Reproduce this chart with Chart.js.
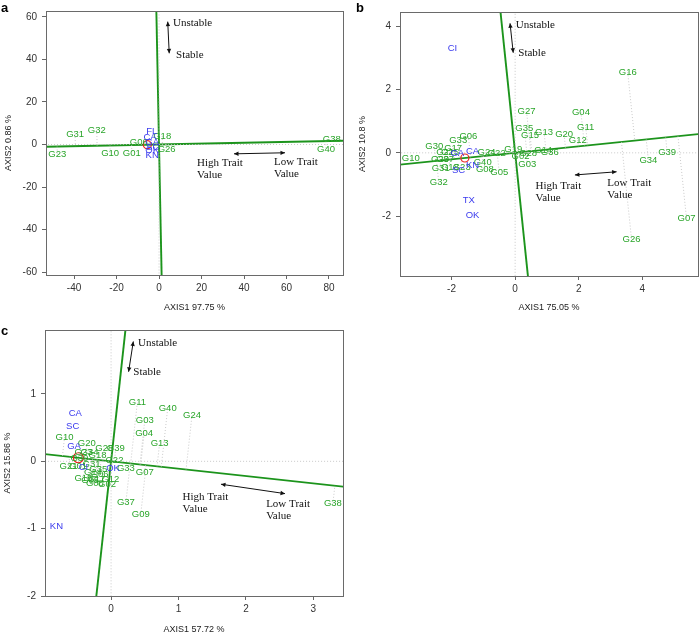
<!DOCTYPE html>
<html>
<head>
<meta charset="utf-8">
<script src="https://cdn.jsdelivr.net/npm/chart.js@4.4.1/dist/chart.umd.min.js"></script>
<style>
  body { margin: 0; background: #fff; }
  .wrap { position: relative; width: 700px; height: 635px; }
  canvas { position: absolute; }
</style>
</head>
<body>
<div class="wrap">
  <canvas id="plotA" width="350" height="318" style="left:0;top:0"></canvas>
  <canvas id="plotB" width="350" height="318" style="left:350px;top:0"></canvas>
  <canvas id="plotC" width="350" height="317" style="left:0;top:318px"></canvas>
</div>
<script>
// panel a
const aGenoNames = ['G31', 'G32', 'G23', 'G10', 'G01', 'G06', 'G18', 'G26', 'G38', 'G40'];
const aGenoX = [-39.5, -29.3, -47.9, -23, -12.8, -9.5, 1.5, 3.6, 81.3, 78.6];
const aGenoY = [4.9, 6.8, -4.6, -4.4, -4.4, 1.1, 4, -2.4, 2.4, -2.1];
const aEnvNames = ['FL', 'CA', 'GA', 'SC', 'OK', 'KN'];
const aEnvX = [-3.4, -4.2, -3.2, -3.0, -3.2, -3.2];
const aEnvY = [6.3, 3.5, 1.2, -1.2, -3.0, -4.9];
const aAvg = [-5.5, -0.11];
const aXTicks = [-40, -20, 0, 20, 40, 60, 80];
const aYTicks = [-60, -40, -20, 0, 20, 40, 60];

// panel b
const bGenoNames = ['G16', 'G27', 'G04', 'G11', 'G35', 'G15', 'G13', 'G20', 'G12', 'G39', 'G34', 'G07', 'G26',
  'G19', 'G02', 'G28', 'G03', 'G14', 'G36', 'G24', 'G22', 'G40', 'G08', 'G05', 'G06', 'G33', 'G30', 'G17',
  'G10', 'G32', 'G31', 'G18', 'G29', 'G21', 'G23', 'G37', 'G25'];
const bGenoX = [3.54, 0.36, 2.07, 2.22, 0.29, 0.47, 0.91, 1.54, 1.97, 4.78, 4.19, 5.39, 3.66,
  -0.06, 0.17, 0.41, 0.38, 0.88, 1.09, -0.90, -0.58, -1.02, -0.95, -0.50, -1.47, -1.79, -2.54, -1.95,
  -3.28, -2.40, -2.34, -2.05, -2.36, -2.2, -1.68, -2.2, -2.05];
const bGenoY = [2.55, 1.30, 1.28, 0.81, 0.76, 0.56, 0.65, 0.57, 0.40, 0.03, -0.23, -2.09, -2.73,
  0.12, -0.10, -0.02, -0.38, 0.07, 0.0, 0.03, -0.02, -0.30, -0.52, -0.62, 0.53, 0.38, 0.19, 0.15,
  -0.18, -0.95, -0.49, -0.46, -0.22, 0.0, -0.45, -0.22, 0.0];
const bEnvNames = ['CI', 'GA', 'CA', 'KN', 'SC', 'TX', 'OK'];
const bEnvX = [-1.97, -1.82, -1.34, -1.34, -1.78, -1.46, -1.34];
const bEnvY = [3.31, -0.02, 0.06, -0.39, -0.56, -1.51, -1.97];
const bAvg = [-1.58, -0.163];
const bXTicks = [-2, 0, 2, 4];
const bYTicks = [-2, 0, 2, 4];

// panel c
const cGenoNames = ['G10', 'G20', 'G28', 'G39', 'G18', 'G34', 'G22', 'G33', 'G07', 'G12', 'G02', 'G37', 'G09',
  'G38', 'G11', 'G40', 'G24', 'G03', 'G04', 'G13', 'G21', 'G01', 'G31', 'G35', 'G15', 'G14', 'G06', 'G05',
  'G17', 'G08', 'G30', 'G23'];
const cGenoX = [-0.69, -0.36, -0.10, 0.07, -0.20, -0.32, 0.05, 0.22, 0.50, -0.01, -0.06, 0.22, 0.44,
  3.29, 0.39, 0.84, 1.20, 0.50, 0.49, 0.72, -0.63, -0.49, -0.29, -0.19, -0.41, -0.27, -0.17, -0.31,
  -0.22, -0.24, -0.47, -0.41];
const cGenoY = [0.36, 0.26, 0.19, 0.19, 0.09, 0.13, 0.02, -0.11, -0.16, -0.27, -0.34, -0.61, -0.79,
  -0.63, 0.88, 0.79, 0.68, 0.61, 0.41, 0.27, -0.07, -0.07, -0.04, -0.12, -0.25, -0.17, -0.19, -0.29,
  -0.27, -0.33, 0.05, 0.13];
const cEnvNames = ['CA', 'SC', 'GA', 'CI', 'OK', 'KN'];
const cEnvX = [-0.53, -0.57, -0.55, -0.41, 0.03, -0.81];
const cEnvY = [0.71, 0.52, 0.22, -0.09, -0.10, -0.96];
const cAvg = [-0.485, 0.053];
const cXTicks = [0, 1, 2, 3];
const cYTicks = [-2, -1, 0, 1];

const GREEN_TXT = '#2aa52a';
const GREEN_LINE = '#1c941c';
const BLUE_TXT = '#3a3aee';
const SANS = '"Liberation Sans", Arial, sans-serif';
const SERIF = '"Liberation Serif", "Times New Roman", serif';

// projection of a point onto the line through origin with slope m
function project(x, y, m) {
  const t = (x + m * y) / (1 + m * m);
  return { x: t, y: m * t };
}

function arrowHead(ctx, x1, y1, x2, y2) {
  const a = Math.atan2(y2 - y1, x2 - x1);
  const s = 5;
  ctx.beginPath();
  ctx.moveTo(x2, y2);
  ctx.lineTo(x2 - s * Math.cos(a - 0.45), y2 - s * Math.sin(a - 0.45));
  ctx.lineTo(x2 - s * Math.cos(a + 0.45), y2 - s * Math.sin(a + 0.45));
  ctx.closePath();
  ctx.fill();
}

const biplotPlugin = {
  id: 'biplot',
  afterDatasetsDraw(chart) {
    const p = chart.options.plugins.biplot;
    const { ctx, chartArea } = chart;
    const xs = chart.scales.x, ys = chart.scales.y;
    const px = v => xs.getPixelForValue(v);
    const py = v => ys.getPixelForValue(v);
    ctx.save();
    ctx.beginPath();
    ctx.rect(chartArea.left, chartArea.top, chartArea.right - chartArea.left, chartArea.bottom - chartArea.top);
    ctx.clip();

    // average environment
    ctx.strokeStyle = '#e8231f';
    ctx.lineWidth = 1.2;
    ctx.beginPath();
    ctx.arc(px(p.avg[0]), py(p.avg[1]), p.avgR, 0, Math.PI * 2);
    ctx.stroke();

    ctx.textAlign = 'center';
    ctx.textBaseline = 'middle';
    ctx.font = '9.5px ' + SANS;
    ctx.fillStyle = GREEN_TXT;
    p.genoNames.forEach((n, i) => ctx.fillText(n, px(p.genoX[i]), py(p.genoY[i])));
    ctx.fillStyle = BLUE_TXT;
    p.envNames.forEach((n, i) => ctx.fillText(n, px(p.envX[i]), py(p.envY[i])));

    // arrows
    ctx.strokeStyle = '#111';
    ctx.fillStyle = '#111';
    ctx.lineWidth = 1;
    p.arrows.forEach(a => {
      const x1 = px(a[0]), y1 = py(a[1]), x2 = px(a[2]), y2 = py(a[3]);
      ctx.beginPath();
      ctx.moveTo(x1, y1);
      ctx.lineTo(x2, y2);
      ctx.stroke();
      arrowHead(ctx, x1, y1, x2, y2);
      arrowHead(ctx, x2, y2, x1, y1);
    });
    ctx.font = '11px ' + SERIF;
    ctx.textAlign = 'left';
    p.notes.forEach(t => ctx.fillText(t[2], px(t[0]), py(t[1])));
    ctx.restore();

    // frame, titles, letter
    ctx.save();
    ctx.strokeStyle = '#6a6a6a';
    ctx.lineWidth = 1;
    ctx.strokeRect(chartArea.left + 0.5, chartArea.top + 0.5, chartArea.right - chartArea.left, chartArea.bottom - chartArea.top);
    ctx.fillStyle = '#222';
    ctx.font = '9px ' + SANS;
    ctx.textAlign = 'center';
    ctx.textBaseline = 'middle';
    ctx.fillText(p.xTitle, (chartArea.left + chartArea.right) / 2, p.xTitleY);
    ctx.translate(p.yTitleX, (chartArea.top + chartArea.bottom) / 2);
    ctx.rotate(-Math.PI / 2);
    ctx.fillText(p.yTitle, 0, 0);
    ctx.restore();
    ctx.save();
    ctx.fillStyle = '#000';
    ctx.font = 'bold 13px ' + SANS;
    ctx.textBaseline = 'middle';
    ctx.fillText(p.letter, p.letterPos[0], p.letterPos[1]);
    ctx.restore();
  }
};

function makeBiplot(id, p) {
  const m = p.avg[1] / p.avg[0];
  const L = 3 * (p.xMax - p.xMin);
  const Ly = 3 * (p.yMax - p.yMin);
  const thin = { showLine: true, pointRadius: 0, fill: false, borderColor: '#bdbdbd', borderWidth: 0.8, borderDash: [1, 2] };
  const datasets = [];
  datasets.push({ ...thin, data: [{ x: -L, y: 0 }, { x: L, y: 0 }] });
  datasets.push({ ...thin, data: [{ x: 0, y: -Ly }, { x: 0, y: Ly }] });
  p.genoNames.forEach((n, i) => {
    const q = project(p.genoX[i], p.genoY[i], m);
    const pts = [{ x: p.genoX[i], y: p.genoY[i] }, q].sort((u, v) => u.x - v.x);
    datasets.push({ ...thin, data: pts });
  });
  datasets.push({ showLine: true, pointRadius: 0, fill: false, borderColor: GREEN_LINE, borderWidth: 1.9,
    data: [{ x: -L, y: -m * L }, { x: L, y: m * L }] });
  const o1 = { x: -m * Ly, y: Ly }, o2 = { x: m * Ly, y: -Ly };
  datasets.push({ showLine: true, pointRadius: 0, fill: false, borderColor: GREEN_LINE, borderWidth: 1.9,
    data: [o1, o2].sort((u, v) => u.x - v.x) });

  const tickFont = { family: SANS, size: 10 };
  return new Chart(document.getElementById(id), {
    type: 'scatter',
    data: { datasets: datasets },
    options: {
      responsive: false,
      animation: false,
      events: [],
      layout: { padding: p.pad },
      plugins: { legend: { display: false }, tooltip: { enabled: false }, biplot: p },
      scales: {
        x: {
          type: 'linear', min: p.xMin, max: p.xMax,
          grid: { drawOnChartArea: false, drawTicks: true, tickLength: 4, color: '#666' },
          border: { display: false },
          ticks: { font: tickFont, color: '#333', padding: 3, autoSkip: false, maxRotation: 0 },
          afterBuildTicks: s => { s.ticks = p.xTicks.map(v => ({ value: v })); },
          afterFit: s => { s.height = p.xAxisH; }
        },
        y: {
          type: 'linear', min: p.yMin, max: p.yMax,
          grid: { drawOnChartArea: false, drawTicks: true, tickLength: 4, color: '#666' },
          border: { display: false },
          ticks: { font: tickFont, color: '#333', padding: 5, autoSkip: false },
          afterBuildTicks: s => { s.ticks = p.yTicks.map(v => ({ value: v })); },
          afterFit: s => { s.width = p.yAxisW; }
        }
      }
    },
    plugins: [biplotPlugin]
  });
}

makeBiplot('plotA', {
  genoNames: aGenoNames, genoX: aGenoX, genoY: aGenoY,
  envNames: aEnvNames, envX: aEnvX, envY: aEnvY,
  avg: aAvg, avgR: 4, xTicks: aXTicks, yTicks: aYTicks,
  xMin: -53.2, xMax: 86.6, yMin: -61.4, yMax: 62.8,
  pad: { top: 10, right: 7, left: 0, bottom: 0 }, xAxisH: 43, yAxisW: 46,
  arrows: [[4.1, 57.8, 4.8, 42.9], [35.3, -4.4, 59.3, -3.9]],
  notes: [[6.6, 57, 'Unstable'], [8, 42.2, 'Stable'], [17.9, -8.6, 'High Trait'], [17.9, -14.2, 'Value'],
    [54.1, -8.2, 'Low Trait'], [54.1, -13.8, 'Value']],
  xTitle: 'AXIS1 97.75 %', xTitleY: 308, yTitle: 'AXIS2 0.86 %', yTitleX: 9,
  letter: 'a', letterPos: [1, 8]
});

makeBiplot('plotB', {
  genoNames: bGenoNames, genoX: bGenoX, genoY: bGenoY,
  envNames: bEnvNames, envX: bEnvX, envY: bEnvY,
  avg: bAvg, avgR: 4, xTicks: bXTicks, yTicks: bYTicks,
  xMin: -3.62, xMax: 5.75, yMin: -3.9, yMax: 4.46,
  pad: { top: 12, right: 2, left: 0, bottom: 0 }, xAxisH: 42, yAxisW: 50,
  arrows: [[-0.16, 4.10, -0.06, 3.17], [1.88, -0.70, 3.19, -0.60]],
  notes: [[0.02, 4.05, 'Unstable'], [0.1, 3.15, 'Stable'], [0.64, -1.04, 'High Trait'], [0.64, -1.42, 'Value'],
    [2.90, -0.97, 'Low Trait'], [2.90, -1.33, 'Value']],
  xTitle: 'AXIS1 75.05 %', xTitleY: 308, yTitle: 'AXIS2 10.8 %', yTitleX: 13,
  letter: 'b', letterPos: [6, 8]
});

makeBiplot('plotC', {
  genoNames: cGenoNames, genoX: cGenoX, genoY: cGenoY,
  envNames: cEnvNames, envX: cEnvX, envY: cEnvY,
  avg: cAvg, avgR: 5, xTicks: cXTicks, yTicks: cYTicks,
  xMin: -0.98, xMax: 3.44, yMin: -2.0, yMax: 1.95,
  pad: { top: 12, right: 7, left: 0, bottom: 0 }, xAxisH: 39, yAxisW: 45,
  arrows: [[0.33, 1.78, 0.26, 1.33], [1.63, -0.34, 2.58, -0.48]],
  notes: [[0.40, 1.76, 'Unstable'], [0.33, 1.32, 'Stable'], [1.06, -0.53, 'High Trait'], [1.06, -0.71, 'Value'],
    [2.30, -0.63, 'Low Trait'], [2.30, -0.81, 'Value']],
  xTitle: 'AXIS1 57.72 %', xTitleY: 312, yTitle: 'AXIS2 15.86 %', yTitleX: 8,
  letter: 'c', letterPos: [1, 13]
});
</script>
</body>
</html>
